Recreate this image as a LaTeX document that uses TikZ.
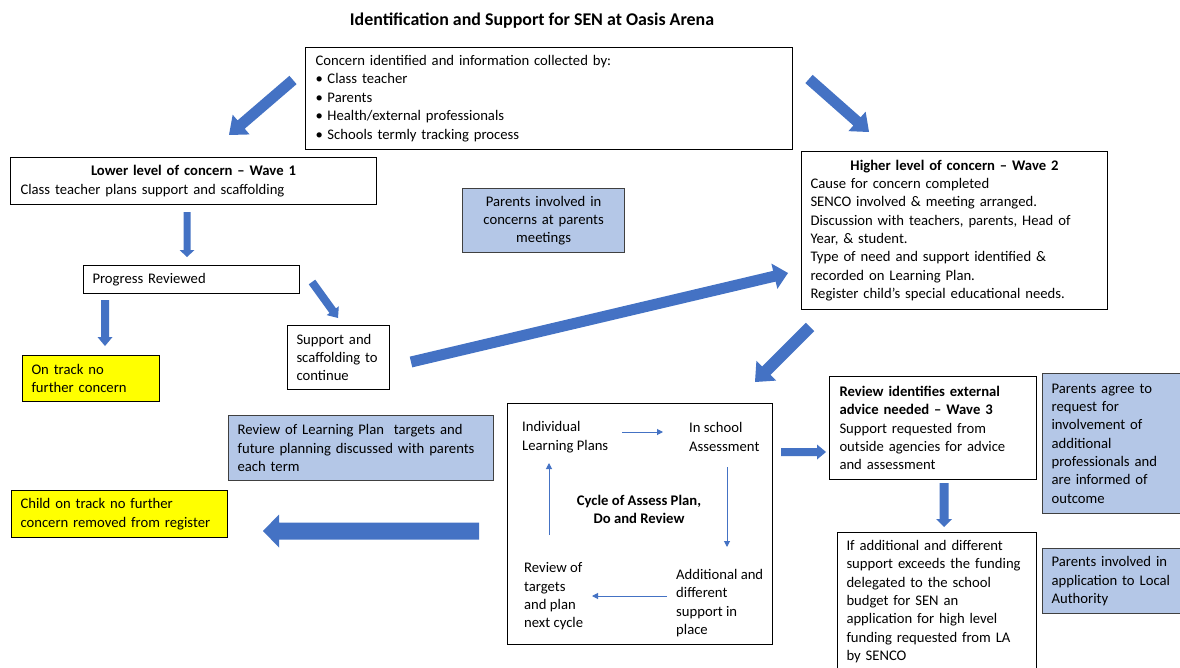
\documentclass[tikz,border=0pt]{standalone}
\usepackage{fontspec}
\setmainfont{Carlito}
\usetikzlibrary{calc,arrows.meta}
\definecolor{arrowblue}{HTML}{4472C4}
\definecolor{boxblue}{HTML}{B4C7E7}
\definecolor{hilite}{HTML}{FFFF00}
\definecolor{blueedge}{HTML}{404040}
% #1 tail coordinate, #2 tip coordinate, #3 half shaft width, #4 half head width, #5 head length
\newcommand{\myblockarrow}[5]{%
  \coordinate (#1neck) at ($(#2)!#5!(#1)$);
  \fill[arrowblue] ($(#1)!#3!90:(#2)$) -- ($(#1neck)!#3!90:(#2)$) -- ($(#1neck)!#4!90:(#2)$)
    -- (#2) -- ($(#1neck)!#4!-90:(#2)$) -- ($(#1neck)!#3!-90:(#2)$) -- ($(#1)!#3!-90:(#2)$) -- cycle;
}
\begin{document}
\begin{tikzpicture}[x=1bp,y=-1bp,
  font=\fontsize{14.67bp}{18.35bp}\selectfont,
  box/.style={draw=black, line width=1bp, inner xsep=9bp, inner ysep=0pt, align=left, anchor=north west},
  bluebox/.style={box, fill=boxblue, draw=blueedge, line width=1.2bp},
  yelbox/.style={box, fill=hilite},
  thinarrow/.style={draw=arrowblue, line width=1bp, -{Triangle[length=6bp,width=6bp]}},
  plain/.style={inner sep=0pt, align=left}]
\fill[white] (0,0) rectangle (1180,668);
\useasboundingbox (0,0) rectangle (1180,668);

% title
\node[inner sep=0pt, font=\fontsize{17.9bp}{21bp}\selectfont] (title) at (532,21) {\textbf{Identification and Support for SEN at Oasis Arena}};

% boxes
\node[box, minimum width=487bp, minimum height=102bp, text width=467bp, inner xsep=10bp] (concern) at (305,47)
 {Concern identified and information collected by:\\
  \makebox[12bp][l]{•}Class teacher\\
  \makebox[12bp][l]{•}Parents\\
  \makebox[12bp][l]{•}Health/external professionals\\
  \makebox[12bp][l]{•}Schools termly tracking process};

\node[box, minimum width=366bp, minimum height=47bp, text width=346bp, inner xsep=10bp] (lower) at (10,157)
 {{\centering\textbf{Lower level of concern – Wave 1}\par}
  Class teacher plans support and scaffolding};

\node[box, minimum width=216bp, minimum height=28bp, text width=198bp] (progress) at (83,265)
 {Progress Reviewed};

\node[box, minimum width=102bp, minimum height=64bp, text width=84bp] (support) at (287,325)
 {\mbox{Support and}\\\mbox{scaffolding to}\\continue};

\node[yelbox, minimum width=137bp, minimum height=46bp, text width=119bp] (ontrack) at (22,355)
 {On track no\\further concern};

\node[bluebox, minimum width=162bp, minimum height=64bp, text width=148bp, inner xsep=7bp, align=center] (parconc) at (462,188)
 {Parents involved in\\concerns at parents\\meetings};

\node[box, minimum width=306bp, minimum height=158bp, text width=288bp] (higher) at (801,151)
 {{\centering\textbf{Higher level of concern – Wave 2}\par}
  Cause for concern completed\\
  SENCO involved \& meeting arranged.\\
  Discussion with teachers, parents, Head of\\
  Year, \& student.\\
  Type of need and support identified \&\\
  recorded on Learning Plan.\\
  Register child’s special educational needs.};

\node[bluebox, minimum width=265bp, minimum height=65bp, text width=247bp] (reviewlp) at (228,415)
 {Review of Learning Plan\ \ targets and\\\mbox{future planning discussed with parents}\\each term};

\node[yelbox, minimum width=216bp, minimum height=47bp, text width=198bp] (child) at (11,490)
 {Child on track no further\\\mbox{concern removed from register}};

\node[box, minimum width=265bp, minimum height=241bp] (cycle) at (507,403) {};

\node[box, minimum width=207bp, minimum height=103bp, text width=187bp, inner xsep=10bp] (external) at (829,376)
 {\textbf{Review identifies external}\\
  \textbf{advice needed – Wave 3}\\
  Support requested from\\
  outside agencies for advice\\
  and assessment};

\node[bluebox, minimum width=146bp, minimum height=140bp, text width=128bp] (agree) at (1042,373)
 {Parents agree to\\request for\\involvement of\\additional\\professionals and\\are informed of\\outcome};

\node[box, minimum width=199bp, minimum height=138bp, text width=181bp] (funding) at (837,532)
 {If additional and different\\
  \mbox{support exceeds the funding}\\
  delegated to the school\\
  budget for SEN an\\
  application for high level\\
  funding requested from LA\\
  by SENCO};

\node[bluebox, minimum width=146bp, minimum height=65bp, text width=128bp] (application) at (1042,548)
 {Parents involved in\\application to Local\\Authority};

% cycle contents
\node[plain, anchor=west] (ilp) at (522,437) {Individual\\Learning Plans};
\node[plain, anchor=west] (inschool) at (689,437) {In school\\Assessment};
\node[plain, align=center] (cyctitle) at (639,509.5) {\textbf{Cycle of Assess Plan,}\\\textbf{Do and Review}};
\node[plain, anchor=west] (revtargets) at (524,596.5) {Review of\\targets\\and plan\\next cycle};
\node[plain, anchor=west] (additional) at (676,603) {Additional and\\different\\support in\\place};

\coordinate (t1a) at (622,432); \coordinate (t1b) at (663,432);
\coordinate (t2a) at (727,467); \coordinate (t2b) at (727,547);
\coordinate (t3a) at (667,596); \coordinate (t3b) at (592,596);
\coordinate (t4a) at (549,535); \coordinate (t4b) at (549,463);
\draw[thinarrow] (t1a) -- (t1b);
\draw[thinarrow] (t2a) -- (t2b);
\draw[thinarrow] (t3a) -- (t3b);
\draw[thinarrow] (t4a) -- (t4b);

% block arrows
\coordinate (a1s) at (293,80);  \coordinate (a1e) at (229,135);
\coordinate (a2s) at (809,79);  \coordinate (a2e) at (869,132);
\coordinate (a3s) at (187,212); \coordinate (a3e) at (187,257);
\coordinate (a4s) at (105,300); \coordinate (a4e) at (105,346);
\coordinate (a5s) at (312,282); \coordinate (a5e) at (338,318);
\coordinate (a6s) at (411,362); \coordinate (a6e) at (788,273);
\coordinate (a7s) at (810,327); \coordinate (a7e) at (755,382);
\coordinate (a8s) at (781,452); \coordinate (a8e) at (826,452);
\coordinate (a9s) at (944,483); \coordinate (a9e) at (944,527);
\coordinate (a10s) at (479,531); \coordinate (a10e) at (263,531);
\myblockarrow{a1s}{a1e}{5.5bp}{13bp}{16bp}
\myblockarrow{a2s}{a2e}{5.5bp}{13bp}{16bp}
\myblockarrow{a3s}{a3e}{3.5bp}{7.5bp}{7bp}
\myblockarrow{a4s}{a4e}{4bp}{7.5bp}{9bp}
\myblockarrow{a5s}{a5e}{4bp}{7.5bp}{9bp}
\myblockarrow{a6s}{a6e}{5.5bp}{13bp}{14bp}
\myblockarrow{a7s}{a7e}{6bp}{14bp}{16bp}
\myblockarrow{a8s}{a8e}{4bp}{7.5bp}{9bp}
\myblockarrow{a9s}{a9e}{4.5bp}{8bp}{8bp}
\myblockarrow{a10s}{a10e}{8.5bp}{16.5bp}{16bp}
\end{tikzpicture}
\end{document}
